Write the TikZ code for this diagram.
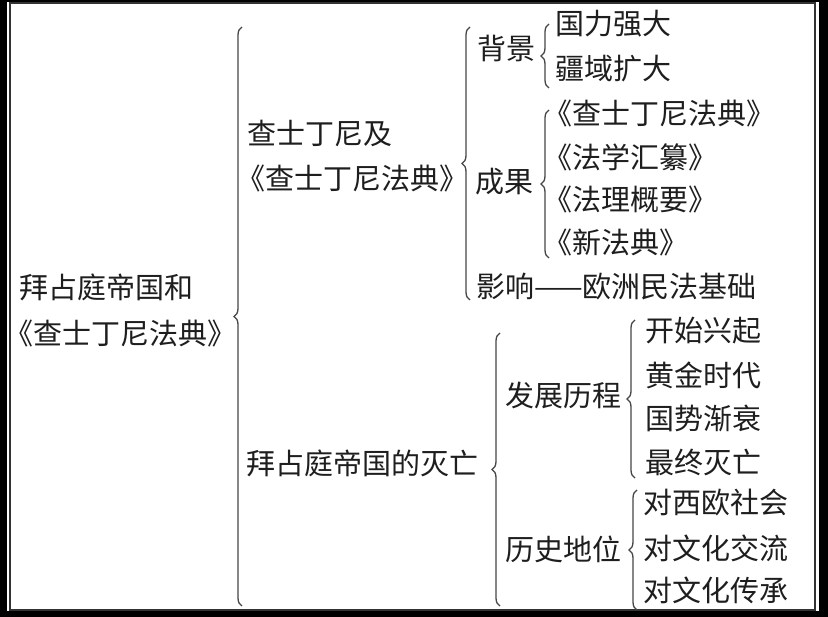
\documentclass[tikz,border=0pt]{standalone}
\usepackage{fontspec}
\newfontfamily\cjk{Noto Sans CJK SC}
\usetikzlibrary{decorations.pathreplacing}
\definecolor{ink}{RGB}{30,30,30}
\definecolor{brcgray}{RGB}{70,70,70}
\tikzset{
	txt/.style={anchor=west, inner sep=0pt, text=ink,
		font=\cjk\fontsize{29}{34}\selectfont},
	brc/.style={draw=brcgray, line width=1.3pt, decorate,
		decoration={brace, amplitude=8pt}}
}
\begin{document}
\begin{tikzpicture}[x=1pt, y=-1pt]
		% frame
		\fill[black] (0,0) rectangle (828,617);
		\fill[white] (7,2) rectangle (819,611);
		\draw[gray!40!black, line width=2pt] (10,3.5) rectangle (815,609.5);
		
		% root
		\node[txt] (root1) at (19,287) {拜占庭帝国和};
		\node[txt] (root2) at (4,333) {《查士丁尼法典》};
		
		% first branch
		\node[txt] (law1) at (247,133) {查士丁尼及};
		\node[txt] (law2) at (236,178) {《查士丁尼法典》};
		\node[txt] (bg) at (477,48) {背景};
		\node[txt] (res) at (475,182) {成果};
		\node[txt] (eff) at (476,287) {影响——欧洲民法基础};
		\node[txt] (bg1) at (555,24) {国力强大};
		\node[txt] (bg2) at (555,69) {疆域扩大};
		\node[txt] (res1) at (543,113) {《查士丁尼法典》};
		\node[txt] (res2) at (543,157) {《法学汇纂》};
		\node[txt] (res3) at (543,199) {《法理概要》};
		\node[txt] (res4) at (543,242) {《新法典》};
		
		% second branch
		\node[txt] (fall) at (246,463) {拜占庭帝国的灭亡};
		\node[txt] (dev) at (505,395) {发展历程};
		\node[txt] (pos) at (505,549) {历史地位};
		\node[txt] (dev1) at (645,331) {开始兴起};
		\node[txt] (dev2) at (645,375) {黄金时代};
		\node[txt] (dev3) at (645,418) {国势渐衰};
		\node[txt] (dev4) at (645,462) {最终灭亡};
		\node[txt] (pos1) at (643,503) {对西欧社会};
		\node[txt] (pos2) at (643,548) {对文化交流};
		\node[txt] (pos3) at (643,590) {对文化传承};
		
		% braces
		\coordinate (b1n) at (242,27);   \coordinate (b1s) at (242,606);
		\coordinate (b2n) at (470,27);   \coordinate (b2s) at (470,300);
		\coordinate (b3n) at (549,24);   \coordinate (b3s) at (549,88);
		\coordinate (b4n) at (549,110);  \coordinate (b4s) at (549,258);
		\coordinate (b5n) at (500,333);  \coordinate (b5s) at (500,606);
		\coordinate (b6n) at (635,320);  \coordinate (b6s) at (635,478);
		\coordinate (b7n) at (637,490);  \coordinate (b7s) at (637,610);
		
		\draw[brc] (b1s) -- (b1n);
		\draw[brc] (b2s) -- (b2n);
		\draw[brc] (b3s) -- (b3n);
		\draw[brc] (b4s) -- (b4n);
		\draw[brc] (b5s) -- (b5n);
		\draw[brc] (b6s) -- (b6n);
		\draw[brc] (b7s) -- (b7n);
	\end{tikzpicture}
\end{document}
